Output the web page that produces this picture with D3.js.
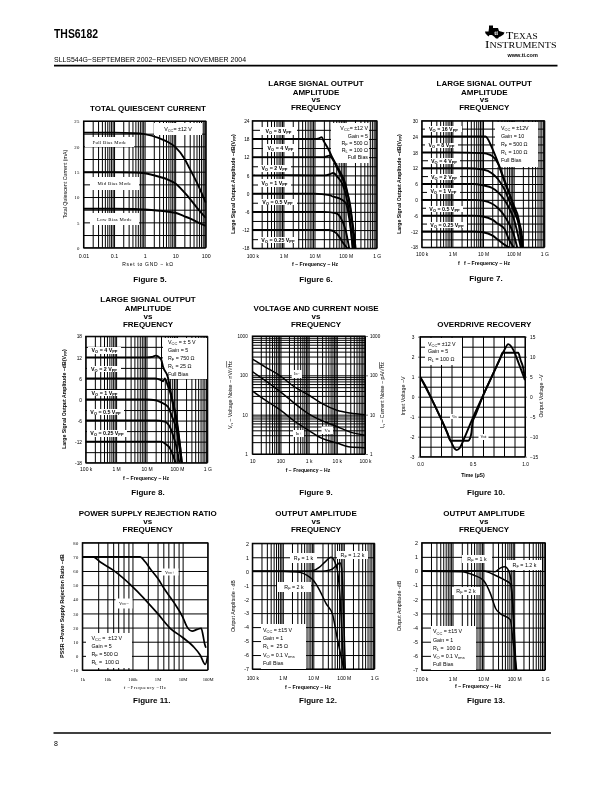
<!DOCTYPE html>
<html><head><meta charset="utf-8">
<script src="https://cdn.jsdelivr.net/npm/d3@7"></script>
<style>
html,body{margin:0;padding:0;background:#fff}
svg{display:block;filter:blur(0.3px)}
text{font-family:"Liberation Sans",Arial,sans-serif;fill:#000}
</style></head><body><svg id="page" width="612" height="792"></svg>
<script>
// ---------- Figure 5 ----------
const fig5Full=[[0.01,22.7],[0.1,22.7],[0.5,22.6],[1,22.4],[3,21.6],[6,20.8],[10,19.9],[20,17.6],[30,15.6],[60,12],[100,8.9]];
const fig5Mid=[[0.01,14.9],[0.1,14.9],[0.5,14.85],[1,14.7],[3,14],[6,13.4],[10,12.7],[20,10.9],[30,9.7],[60,7.4],[100,5.9]];
const fig5Low=[[0.01,7.7],[0.1,7.7],[0.5,7.65],[1,7.55],[3,7.3],[6,7.1],[10,6.9],[20,6.2],[30,5.8],[60,4.9],[100,4.3]];
// ---------- Figure 6 ----------
const fig6V8=[[1e5,18],[1e6,18],[1e7,18],[1.4e7,18.2],[1.7e7,18.6],[2e7,17.2],[3e7,14],[3.7e7,12],[6e7,8],[1e8,3],[1.45e8,-5.6],[1.8e8,-12],[2.1e8,-18]];
const fig6V4=[[1e5,12],[1e6,12],[1e7,12],[2e7,12],[3e7,12.5],[4e7,11],[5e7,9],[1e8,2],[1.5e8,-6],[1.9e8,-18]];
const fig6V2=[[1e5,6],[1e6,6.1],[1e7,6],[2e7,6],[3e7,6.3],[4e7,6.8],[5.5e7,5.5],[8e7,3],[1e8,0],[1.3e8,-6],[1.7e8,-18]];
const fig6V1=[[1e5,0],[1e6,0],[1e7,0],[3e7,-0.5],[4e7,-1],[6e7,-1.5],[1e8,-3],[1.3e8,-8],[1.7e8,-18]];
const fig6V05=[[1e5,-6],[1e6,-6],[1e7,-6],[2e7,-6],[5e7,-6.5],[7e7,-8],[1e8,-12],[1.3e8,-18]];
const fig6V025=[[1e5,-12],[1e6,-12],[1e7,-12],[3e7,-12],[5e7,-13],[6e7,-14],[8e7,-16],[1.15e8,-18]];
// ---------- Figure 7 ----------
const fig7V16=[[1e5,24],[1e6,24],[1e7,24],[1.2e7,24],[2e7,19.5],[3e7,14.5],[5e7,7.5],[8.5e7,0],[1.2e8,-6],[1.8e8,-12],[2e8,-18]];
const fig7V8=[[1e5,18],[1e6,18],[1e7,17.7],[1.7e7,17],[2e7,16.6],[3e7,14],[5e7,7],[1e8,-2],[1.5e8,-8],[1.9e8,-18]];
const fig7V4=[[1e5,12],[3e6,12],[1e7,11.5],[2e7,10],[3e7,8],[5e7,4],[7e7,0],[1e8,-4],[1.5e8,-10],[1.8e8,-18]];
const fig7V2=[[1e5,6],[5e6,6],[1e7,5.5],[2e7,4.5],[3e7,3],[5e7,0],[7e7,-3],[1e8,-7],[1.3e8,-12],[1.7e8,-18]];
const fig7V1=[[1e5,0],[5e6,0],[1e7,-0.3],[2e7,-1.5],[3e7,-3],[5e7,-6],[7e7,-9],[1e8,-13],[1.3e8,-18]];
const fig7V05=[[1e5,-6],[5e6,-6],[1e7,-6.3],[2e7,-7.5],[3e7,-9],[5e7,-11],[7e7,-15],[1e8,-18]];
const fig7V025=[[1e5,-12],[5e6,-12],[1e7,-12.3],[2e7,-13.5],[3e7,-15],[5e7,-17],[7e7,-18]];
// ---------- Figure 8 ----------
const fig8V4=[[1e5,12],[1e6,12],[1e7,12],[1.5e7,12.1],[2e7,12.5],[3e7,11.5],[3.5e7,9.3],[5e7,6.5],[7.5e7,-1.6],[1e8,-7],[1.3e8,-14],[1.45e8,-18]];
const fig8V2=[[1e5,6],[1e6,6],[2e7,6],[3e7,5.5],[3.5e7,5.2],[4e7,6],[5e7,4],[7e7,0],[1e8,-6],[1.3e8,-14],[1.45e8,-18]];
const fig8V1=[[1e5,0],[1e6,0],[1e7,0],[2e7,-0.2],[3e7,-0.8],[5e7,-2],[7e7,-5],[1e8,-9],[1.4e8,-18]];
const fig8V05=[[1e5,-6],[1e6,-6],[2e7,-6],[4e7,-6.3],[6e7,-8],[8e7,-11],[1e8,-14],[1.2e8,-18]];
const fig8V025=[[1e5,-12],[1e6,-12],[3e7,-12],[4e7,-12.5],[6e7,-14],[7.5e7,-16],[9e7,-18]];
// ---------- Figure 9 ----------
const fig9In=[[10,260],[30,160],[100,96],[300,52],[1e3,31.6],[3e3,19],[1e4,13],[3e4,11],[1e5,10]];
const fig9Vn=[[10,124],[30,72],[100,38],[300,20],[1e3,10.5],[3e3,7],[1e4,5],[3e4,3.6],[1e5,3]];
const fig9Ip=[[10,40],[30,23],[100,13],[300,7],[1e3,4],[3e3,2.5],[1e4,1.9],[3e4,1.5],[1e5,1.45]];
// ---------- Figure 10 ----------
const fig10In=[[0,1],[0.05,0.55],[0.1,0],[0.15,-0.55],[0.2,-1.1],[0.25,-1.7],[0.3,-2.3],[0.33,-2.6],[0.35,-2.67],[0.38,-2.55],[0.42,-2.1],[0.5,-1.1],[0.6,0.05],[0.71,1.3],[0.8,2.3],[0.84,2.63],[0.89,2.33],[0.94,1.67],[1,0.83]];
const fig10Out=[[0,5],[0.1,0],[0.2,-5.5],[0.26,-9],[0.29,-11],[0.35,-11],[0.46,-11],[0.475,-10.5],[0.49,-9],[0.5,-6.5],[0.53,-4.5],[0.6,0.2],[0.71,6.5],[0.77,10],[0.785,11],[0.85,11],[0.935,11],[0.96,9],[0.98,7.5],[1,4.5]];
// ---------- Figure 11 ----------
const fig11Minus=[[1e3,70],[2.75e3,70],[5e3,66.5],[1.7e4,60.6],[1e5,49],[1e6,30],[3.2e6,19.5],[1e7,13],[2.7e7,6.5],[5e7,0.6],[8e7,-6],[1e8,0]];
const fig11Plus=[[1e3,70],[2e5,70],[3.2e5,66.5],[5e5,61.8],[1e6,55],[2e6,46.5],[4.4e6,38],[1e7,27.6],[1.5e7,20.5],[2.4e7,17.5],[3.8e7,18.7],[5.5e7,19.5],[6.5e7,14.6],[7.5e7,8.7],[8.5e7,5.7]];
const fig11GridX=[1e3,4.3e3,1e4,1.7e4,2.7e4,4.4e4,6.9e4,1e5,4.1e5,1e6,1.7e6,2.7e6,4.4e6,6.9e6,1e7,1e8];
// ---------- Figure 12 ----------
const fig12R1=[[1e5,0],[1e6,0],[7e6,0],[1e7,0.05],[1.6e7,0.3],[2.4e7,0.65],[3.8e7,1],[5e7,0.7],[6.5e7,-0.27],[7.5e7,-1.8],[8.5e7,-4],[1e8,-7]];
const fig12R12=[[1e5,0],[1e6,0],[2e7,0],[3.8e7,0.1],[6e7,0.45],[7.5e7,0.6],[8.5e7,0.2],[9.5e7,-2],[1.05e8,-5],[1.12e8,-7]];
const fig12R2=[[1e5,0],[1e6,0],[2e6,-0.03],[3.9e6,-0.1],[6.3e6,-0.3],[1e7,-0.65],[1.6e7,-1.35],[2.6e7,-2.3],[4.3e7,-3.1],[5.8e7,-4.55],[7.6e7,-5.8],[1e8,-7]];
// ---------- Figure 13 ----------
const fig13R1=[[1e5,0],[1e6,0],[5e6,0],[1e7,0],[2.4e7,-0.05],[3.5e7,0.2],[5e7,0.3],[6.5e7,0.05],[8e7,-0.75],[9e7,-2.4],[1.1e8,-7]];
const fig13R12=[[1e5,0],[1e6,0],[1e7,0],[2.4e7,-0.3],[5e7,-0.65],[7.5e7,-0.9],[9e7,-2.4],[1.15e8,-7]];
const fig13R2=[[1e5,-0.02],[2e6,-0.05],[5e6,-0.3],[1e7,-0.65],[1.7e7,-1.6],[2.5e7,-2.65],[3.5e7,-3],[7.5e7,-3.45],[9e7,-4.8],[1.2e8,-7]];
// ---------- Tick labels ----------
const fig5XTicks=[0.01,0.1,1,10,100];
const fig5XLabels=["0.01","0.1","1","10","100"];
const fig5YTicks=[0,5,10,15,20,25];
const freqTicks=[1e5,1e6,1e7,1e8,1e9];
const freqLabels=["100 k","1 M","10 M","100 M","1 G"];
const fig6YTicks=[-18,-12,-6,0,6,12,18,24];
const fig7YTicks=[-18,-12,-6,0,6,12,18,24,30];
const fig8YTicks=[-18,-12,-6,0,6,12,18];
const fig9XTicks=[10,100,1e3,1e4,1e5];
const fig9XLabels=["10","100","1 k","10 k","100 k"];
const fig9YTicks=[1,10,100,1000];
const fig9YLabels=["1","10","100","1000"];
const fig10XTicks=[0,0.5,1];
const fig10XLabels=["0.0","0.5","1.0"];
const fig10LeftTicks=[-3,-2,-1,0,1,2,3];
const fig10RightTicks=[-15,-10,-5,0,5,10,15];
const fig11XTicks=[1e3,1e4,1e5,1e6,1e7,1e8];
const fig11XLabels=["1k","10k","100k","1M","10M","100M"];
const fig11YTicks=[-10,0,10,20,30,40,50,60,70,80];
const fig12YTicks=[-7,-6,-5,-4,-3,-2,-1,0,1,2];

const SANS='"Liberation Sans",Arial,sans-serif', SERIF='"Liberation Serif","Times New Roman",serif';
const svg=d3.select("#page");

// rich text: V{O} subscript, [Hz] overline
function rich(sel,str,size){
  const re=/\{([^}]*)\}|\[([^\]]*)\]|([^{\[]+)/g; let m, sub=false;
  while((m=re.exec(str))){
    if(m[1]!==undefined){
      sel.append("tspan").attr("dy",size*0.2).attr("font-size",size*0.75).text(m[1]); sub=true;
    } else if(m[2]!==undefined){
      const t=sel.append("tspan").style("text-decoration","overline").text(m[2]);
      if(sub){t.attr("dy",-size*0.2);sub=false;}
    } else {
      const t=sel.append("tspan").text(m[3]);
      if(sub){t.attr("dy",-size*0.2);sub=false;}
    }
  }
}
function txt(x,y,str,o={}){
  const s=o.size||6;
  const t=svg.append("text").attr("x",x).attr("y",y).attr("font-size",s)
    .attr("text-anchor",o.anchor||"middle")
    .style("font-family",o.family||SANS).style("font-weight",o.weight||"normal")
    .style("white-space","pre");
  if(o.spacing) t.style("letter-spacing",o.spacing+"px");
  if(o.fill) t.style("fill",o.fill);
  if(o.rot) t.attr("transform",`rotate(${o.rot} ${x} ${y})`);
  if(o.len) t.attr("textLength",o.len).attr("lengthAdjust","spacingAndGlyphs");
  rich(t,str,s);
  return t;
}
function boldLines(cx,ys,lines,size){lines.forEach((l,i)=>txt(cx,ys[i],l,{size:size||8,weight:"bold"}));}
function logGrid(lo,hi){
  const out=[];
  for(let e=Math.round(Math.log10(lo));e<=Math.round(Math.log10(hi));e++)
    for(let k=1;k<=9;k++){const v=k*Math.pow(10,e); if(v>=lo*0.999&&v<=hi*1.001) out.push(v);}
  return out;
}
function stepGrid(lo,hi,st){return d3.range(0,Math.round((hi-lo)/st)+1).map(i=>lo+i*st);}

let clipId=0;
function panel(o){
  const r=o.rect;
  const x=(o.xLog?d3.scaleLog():d3.scaleLinear()).domain(o.xDom).range([r[0],r[2]]);
  const y=(o.yLog?d3.scaleLog():d3.scaleLinear()).domain(o.yDom).range([r[3],r[1]]);
  const h=r[3]-r[1], w=r[2]-r[0];
  const gw=o.gridWidth||1, gc="#000";
  const gx=svg.append("g").attr("transform",`translate(0,${r[3]})`)
    .call(d3.axisBottom(x).tickValues(o.xGrid).tickSize(-h).tickFormat(""));
  const gy=svg.append("g").attr("transform",`translate(${r[0]},0)`)
    .call(d3.axisLeft(y).tickValues(o.yGrid).tickSize(-w).tickFormat(""));
  [gx,gy].forEach(g=>{g.select(".domain").remove();g.selectAll("line").attr("stroke",gc).attr("stroke-width",gw);});
  svg.append("rect").attr("x",r[0]).attr("y",r[1]).attr("width",w).attr("height",h)
    .attr("fill","none").attr("stroke","#000").attr("stroke-width",1.1);
  (o.notes||[]).forEach(n=>{
    const b=n.box;
    svg.append("rect").attr("x",b[0]).attr("y",b[1]).attr("width",b[2]-b[0]).attr("height",b[3]-b[1]).attr("fill","#fff");
  });
  const id="clip"+(clipId++);
  svg.append("clipPath").attr("id",id).append("rect").attr("x",r[0]).attr("y",r[1]-2).attr("width",w+1).attr("height",h+3);
  (o.series||[]).forEach(s=>{
    const sc=s.scaleY||y;
    const line=d3.line().x(d=>x(d[0])).y(d=>sc(d[1])).curve(d3.curveMonotoneX);
    svg.append("path").attr("d",line(s.data)).attr("fill","none").attr("stroke","#000")
      .attr("stroke-width",o.lineWidth||1.9).attr("stroke-linejoin","round").attr("clip-path",`url(#${id})`);
  });
  (o.notes||[]).forEach(n=>{
    const b=n.box, s=n.size||5.3, lh=n.lh||(s*1.45), ls=n.lines;
    const a=n.anchor||"middle";
    const tx=a==="middle"?(b[0]+b[2])/2:(a==="start"?b[0]+(n.pad==null?3:n.pad):b[2]-(n.pad==null?2:n.pad));
    const y0=(b[1]+b[3])/2-(ls.length-1)*lh/2+s*0.35;
    ls.forEach((l,i)=>txt(tx,y0+i*lh,l,{size:s,anchor:a,family:n.family,weight:n.weight,spacing:n.spacing}));
  });
  const tx=o.xt, ty=o.yt;
  const ax=svg.append("g").attr("transform",`translate(0,${tx.y})`)
    .call(d3.axisBottom(x).tickValues(tx.ticks).tickSize(0).tickPadding(0).tickFormat((d,i)=>tx.labels[i]));
  ax.select(".domain").remove();
  ax.selectAll("text").attr("y",0).attr("dy",0).attr("font-size",tx.size||5.5).style("font-family",tx.family||SANS).style("letter-spacing",(tx.spacing||0)+"px");
  const ay=svg.append("g").attr("transform",`translate(${ty.x},0)`)
    .call(d3.axisLeft(y).tickValues(ty.ticks).tickSize(0).tickPadding(0).tickFormat((d,i)=>ty.labels[i]));
  ay.select(".domain").remove();
  ay.selectAll("text").attr("x",0).attr("dy","0.35em").attr("font-size",ty.size||5).style("font-family",ty.family||SANS).style("letter-spacing",(ty.spacing||0)+"px");
  return {x,y};
}
function labelsFor(a){return a.map(String);}

// ---------- Page furniture ----------
txt(54,37.5,"THS6182",{size:12,weight:"bold",anchor:"start",len:44});
txt(54,62,"SLLS544G−SEPTEMBER 2002−REVISED NOVEMBER 2004",{size:6.6,anchor:"start",len:192});
svg.append("line").attr("x1",54).attr("x2",557.5).attr("y1",65.6).attr("y2",65.6).attr("stroke","#000").attr("stroke-width",1.6);
svg.append("line").attr("x1",53.5).attr("x2",551).attr("y1",733).attr("y2",733).attr("stroke","#000").attr("stroke-width",1.6);
txt(54,745.5,"8",{size:7,anchor:"start"});
svg.append("path").attr("d","M489 25.5 l4 0 l0 2.5 l5 0 l1 3 l5.5 1.5 l-1 2 l-3 2 l-1.5 0.5 l-1 1.5 l-2 0 l-2 -2 l-2 -1.5 l-2.5 0 l-1 1.5 l-3 -3 l-0.5 -2 l3.5 0 l0.5 -3.5 z").attr("fill","#000");
txt(496,34.5,"ti",{size:6,weight:"bold",anchor:"middle",family:SERIF,fill:"#fff"});
{
  const t1=svg.append("text").attr("x",505.7).attr("y",39).style("font-family",SERIF).attr("font-size",10).attr("textLength",32).attr("lengthAdjust","spacingAndGlyphs");
  t1.append("tspan").text("T"); t1.append("tspan").attr("font-size",7.6).text("EXAS");
  const t2=svg.append("text").attr("x",485).attr("y",48.3).style("font-family",SERIF).attr("font-size",10).attr("textLength",71.5).attr("lengthAdjust","spacingAndGlyphs");
  t2.append("tspan").text("I"); t2.append("tspan").attr("font-size",7.6).text("NSTRUMENTS");
}
txt(522.7,56.7,"www.ti.com",{size:5.5,weight:"bold"});

function vo(str,box){return {box,lines:[str],weight:"bold",size:5.3};}

// ---------- Fig 5 ----------
txt(148,111,"TOTAL QUIESCENT CURRENT",{size:8,weight:"bold"});
panel({rect:[83.5,121,205.7,247.7],xLog:true,xDom:[0.01,100],yDom:[0,25],
  xGrid:logGrid(0.01,100),yGrid:stepGrid(0,25,2.5),
  series:[{data:fig5Full},{data:fig5Mid},{data:fig5Low}],
  notes:[{box:[154,123,202,135],lines:["V{CC}= ±12 V"],size:5.3},
    {box:[85,137,134,147],lines:["Full Bias Mode"],family:SERIF,size:4.8,spacing:0.3},
    {box:[90,177,139,190],lines:["Mid Bias Mode"],family:SERIF,size:4.8,spacing:0.3},
    {box:[90,213,139,225],lines:["Low Bias Mode"],family:SERIF,size:4.8,spacing:0.3}],
  xt:{y:258,ticks:fig5XTicks,labels:fig5XLabels,size:5.3},
  yt:{x:80,ticks:fig5YTicks,labels:labelsFor(fig5YTicks),family:SERIF,size:4.8,spacing:0.5}});
txt(148,265.5,"Rset to GND − kΩ",{size:5,spacing:0.7});
txt(66.7,184,"Total Quiescent Current (mA)",{size:5.3,rot:-90});
txt(150,282,"Figure 5.",{size:8,weight:"bold"});

// ---------- Fig 6 ----------
boldLines(316,[86.3,94.5,102.3,110.3],["LARGE SIGNAL OUTPUT","AMPLITUDE","vs","FREQUENCY"]);
panel({rect:[252.3,120.7,376.7,248.3],xLog:true,xDom:[1e5,1e9],yDom:[-18,24],
  xGrid:logGrid(1e5,1e9),yGrid:stepGrid(-18,24,3),
  series:[fig6V8,fig6V4,fig6V2,fig6V1,fig6V05,fig6V025].map(d=>({data:d})),
  notes:[vo("V{O} = 8 V{PP}",[260,127,297,135]),vo("V{O} = 4 V{PP}",[263,144,298,152]),vo("V{O} = 2 V{PP}",[258,165,291,172]),
    vo("V{O} = 1 V{PP}",[258,179,291,187]),vo("V{O} = 0.5 V{PP}",[258,199,297,205]),vo("V{O} = 0.25 V{PP}",[258,237,298,243]),
    {box:[331,123,369,163],anchor:"end",size:5.3,lh:7.3,pad:1,lines:["V{CC}= ±12 V","Gain = 5","R{F} = 500 Ω","R{L} = 100 Ω","Full Bias"]}],
  xt:{y:257.5,ticks:freqTicks,labels:freqLabels,size:5},
  yt:{x:249.5,ticks:fig6YTicks,labels:labelsFor(fig6YTicks),size:4.8}});
txt(315,265.5,"f − Frequency − Hz",{size:5.2,weight:"bold"});
txt(234.5,184,"Large Signal Output Amplitude −dB(V{PP})",{size:5.2,rot:-90,weight:"bold"});
txt(316,281.5,"Figure 6.",{size:8,weight:"bold"});

// ---------- Fig 7 ----------
boldLines(484.3,[86.3,94.5,102.3,110.3],["LARGE SIGNAL OUTPUT","AMPLITUDE","vs","FREQUENCY"]);
panel({rect:[421.7,120.7,544.3,247.3],xLog:true,xDom:[1e5,1e9],yDom:[-18,30],
  xGrid:logGrid(1e5,1e9),yGrid:stepGrid(-18,30,3),
  series:[fig7V16,fig7V8,fig7V4,fig7V2,fig7V1,fig7V05,fig7V025].map(d=>({data:d})),
  notes:[vo("V{O} = 16 V{PP}",[425,126,462,132]),vo("V{O} = 8 V{PP}",[425,143,458,148]),vo("V{O} = 4 V{PP}",[428,158,460,164]),
    vo("V{O} = 2 V{PP}",[428,174,460,180]),vo("V{O} = 1 V{PP}",[427,188,460,194]),vo("V{O} = 0.5 V{PP}",[426,206,463,212]),vo("V{O} = 0.25 V{PP}",[427,222,467,228]),
    {box:[495,122,538,167],anchor:"start",pad:6,size:5.3,lh:8,lines:["V{CC} = ±12V","Gain = 10","R{F} = 500 Ω","R{L} = 100 Ω","Full Bias"]}],
  xt:{y:256,ticks:freqTicks,labels:freqLabels,size:5},
  yt:{x:418,ticks:fig7YTicks,labels:labelsFor(fig7YTicks),size:4.8}});
txt(484,265,"f   f − Frequency − Hz",{size:5.2,weight:"bold"});
txt(400.7,184,"Large Signal Output Amplitude −dB(V{PP})",{size:5.2,rot:-90,weight:"bold"});
txt(486,281,"Figure 7.",{size:8,weight:"bold"});

// ---------- Fig 8 ----------
boldLines(148,[302,310.5,318.5,326.5],["LARGE SIGNAL OUTPUT","AMPLITUDE","vs","FREQUENCY"]);
panel({rect:[85.7,336.3,207.3,462.7],xLog:true,xDom:[1e5,1e9],yDom:[-18,18],
  xGrid:logGrid(1e5,1e9),yGrid:stepGrid(-18,18,3),
  series:[fig8V4,fig8V2,fig8V1,fig8V05,fig8V025].map(d=>({data:d})),
  notes:[vo("V{O} = 4 V{PP}",[88,347,121,354]),vo("V{O} = 2 V{PP}",[87,366,121,372]),vo("V{O} = 1 V{PP}",[88,390,121,396]),
    vo("V{O} = 0.5 V{PP}",[87,409,124,415]),vo("V{O} = 0.25 V{PP}",[87,430,127,437]),
    {box:[163,338,207,379],anchor:"start",pad:5,size:5.3,lh:8,lines:["V{CC} = ± 5 V","Gain = 5","R{F} = 750 Ω","R{L} = 25 Ω","Full Bias"]}],
  xt:{y:471,ticks:freqTicks,labels:freqLabels,size:5},
  yt:{x:82,ticks:fig8YTicks,labels:labelsFor(fig8YTicks),size:4.8}});
txt(146,479.5,"f − Frequency − Hz",{size:5.2,weight:"bold"});
txt(65.5,399,"Large Signal Output Amplitude −dB(V{PP})",{size:5.2,rot:-90,weight:"bold"});
txt(148,495,"Figure 8.",{size:8,weight:"bold"});

// ---------- Fig 9 ----------
boldLines(316,[310.7,318.7,326.5],["VOLTAGE AND CURRENT NOISE","vs","FREQUENCY"]);
const p9=panel({rect:[252.3,336,365,454],xLog:true,yLog:true,xDom:[10,1e5],yDom:[1,1000],
  xGrid:logGrid(10,1e5),yGrid:logGrid(1,1000),lineWidth:1.5,
  series:[{data:fig9In},{data:fig9Vn},{data:fig9Ip}],
  notes:[{box:[291.7,370,302,378],lines:["In−"],family:SERIF,size:4},
    {box:[293,430,304,437],lines:["In+"],family:SERIF,size:4},
    {box:[321.5,426.5,333,434],lines:["Vn"],family:SERIF,size:4.5}],
  xt:{y:462.5,ticks:fig9XTicks,labels:fig9XLabels,size:5},
  yt:{x:247.7,ticks:fig9YTicks,labels:fig9YLabels,size:4.6}});
{
  const ar=svg.append("g").attr("transform","translate(370,0)")
    .call(d3.axisRight(p9.y).tickValues(fig9YTicks).tickSize(0).tickPadding(0).tickFormat((d,i)=>fig9YLabels[i]));
  ar.select(".domain").remove();
  ar.selectAll("text").attr("x",0).attr("dy","0.35em").attr("font-size",4.6);
  svg.append("g").attr("transform","translate(365,0)").call(d3.axisRight(p9.y).tickValues(fig9YTicks).tickSize(3).tickFormat("")).call(g=>g.select(".domain").remove()).selectAll("line").attr("stroke","#222").attr("stroke-width",0.6);
}
txt(308,472,"f − Frequency − Hz",{size:5,weight:"bold"});
txt(231.5,395,"V{n} − Voltage Noise − nV/√[Hz]",{size:5.3,rot:-90});
txt(384,395,"I{n} − Current Noise − pA/√[Hz]",{size:5.3,rot:-90});
txt(316,495,"Figure 9.",{size:8,weight:"bold"});

// ---------- Fig 10 ----------
txt(484.3,326.5,"OVERDRIVE RECOVERY",{size:8,weight:"bold"});
const yOutScale=d3.scaleLinear().domain([-15,15]).range([456.7,336.7]);
const p10=panel({rect:[420,336.7,525,456.7],xDom:[0,1],yDom:[-3,3],
  xGrid:stepGrid(0,1,0.1),yGrid:stepGrid(-3,3,0.5),lineWidth:1.9,
  series:[{data:fig10In},{data:fig10Out,scaleY:yOutScale}],
  notes:[{box:[425,338,462,365],anchor:"start",pad:3,size:5.3,lh:7.3,lines:["V{CC}= ±12 V","Gain = 5","R{L} = 100 Ω"]},
    {box:[450,414,458.5,419],lines:["Vin"],family:SERIF,size:3.2},
    {box:[478.5,434,488.5,440],lines:["Vout"],family:SERIF,size:3.2}],
  xt:{y:466,ticks:fig10XTicks,labels:fig10XLabels,size:4.8},
  yt:{x:414.5,ticks:fig10LeftTicks,labels:labelsFor(fig10LeftTicks),size:4.8}});
{
  const ar=svg.append("g").attr("transform","translate(530,0)")
    .call(d3.axisRight(yOutScale).tickValues(fig10RightTicks).tickSize(0).tickPadding(0));
  ar.select(".domain").remove();
  ar.selectAll("text").attr("x",0).attr("dy","0.35em").attr("font-size",4.8);
  svg.append("g").attr("transform","translate(525,0)").call(d3.axisRight(yOutScale).tickValues(fig10RightTicks).tickSize(2).tickFormat("")).call(g=>g.select(".domain").remove()).selectAll("line").attr("stroke","#222").attr("stroke-width",0.6);
  svg.append("g").attr("transform","translate(420,0)").call(d3.axisLeft(p10.y).tickValues(fig10LeftTicks).tickSize(2).tickFormat("")).call(g=>g.select(".domain").remove()).selectAll("line").attr("stroke","#222").attr("stroke-width",0.6);
}
txt(473,477,"Time (μS)",{size:5.2,weight:"bold"});
txt(404.5,396,"Input Voltage −V",{size:5.3,rot:-90});
txt(543,396,"Output Voltage −V",{size:5.3,rot:-90});
txt(486,495,"Figure 10.",{size:8,weight:"bold"});

// ---------- Fig 11 ----------
boldLines(147.7,[516.3,524.3,532],["POWER SUPPLY REJECTION RATIO","vs","FREQUENCY"]);
panel({rect:[82.3,542.7,207.7,670],xLog:true,xDom:[1e3,1e8],yDom:[-10,80],
  xGrid:fig11GridX,yGrid:stepGrid(-10,80,10),lineWidth:1.7,
  series:[{data:fig11Minus},{data:fig11Plus}],
  notes:[{box:[86,633,132,668],anchor:"start",pad:5.5,size:5.3,lh:8,lines:["V{CC} =  ±12 V","Gain = 5","R{F} = 500 Ω","R{L} =  100 Ω"]},
    {box:[161.5,568.5,178.5,575.5],lines:["Vcc+"],family:SERIF,size:4.6},
    {box:[115.5,598.5,132.5,608.5],lines:["Vcc−"],family:SERIF,size:4.6}],
  xt:{y:680.5,ticks:fig11XTicks,labels:fig11XLabels,size:4.6,family:SERIF},
  yt:{x:79,ticks:fig11YTicks,labels:fig11YTicks.map(String),size:4.6,family:SERIF,spacing:0.6}});
txt(145,689,"f −Frequency −Hz",{size:4.8,family:SERIF,spacing:0.45});
txt(64,606,"PSSR −Power Supply Rejection Ratio −dB",{size:5.2,rot:-90,weight:"bold"});
txt(151.7,703,"Figure 11.",{size:8,weight:"bold"});

// ---------- Fig 12 ----------
boldLines(316,[516.3,524.3,532],["OUTPUT AMPLITUDE","vs","FREQUENCY"]);
panel({rect:[252.3,543.3,374.3,669],xLog:true,xDom:[1e5,1e9],yDom:[-7,2],
  xGrid:logGrid(1e5,1e9),yGrid:stepGrid(-7,2,1),lineWidth:1.5,
  series:[{data:fig12R1},{data:fig12R12},{data:fig12R2}],
  notes:[{box:[290,553,317,563],lines:["R{F} = 1 k"],size:5.3},
    {box:[337,551,368,559],lines:["R{F} = 1.2 k"],size:5.3},
    {box:[277,582,311,592],lines:["R{F} = 2 k"],size:5.3},
    {box:[261,624,306,669],anchor:"start",pad:2,size:5.3,lh:8.2,lines:["V{CC} = ±15 V","Gain = 1","R{L} =  25 Ω","V{O} = 0.1 V{rms}","Full Bias"]}],
  xt:{y:679.5,ticks:freqTicks,labels:freqLabels,size:5},
  yt:{x:249,ticks:fig12YTicks,labels:labelsFor(fig12YTicks),size:5.3}});
txt(308,688.5,"f − Frequency − Hz",{size:5.2,weight:"bold"});
txt(235,606,"Output Amplitude - dB",{size:5.3,rot:-90});
txt(318,703,"Figure 12.",{size:8,weight:"bold"});

// ---------- Fig 13 ----------
boldLines(484,[516.3,524.3,532],["OUTPUT AMPLITUDE","vs","FREQUENCY"]);
panel({rect:[421.7,542.7,545,670],xLog:true,xDom:[1e5,1e9],yDom:[-7,2],
  xGrid:logGrid(1e5,1e9),yGrid:stepGrid(-7,2,1),lineWidth:1.5,
  series:[{data:fig13R1},{data:fig13R12},{data:fig13R2}],
  notes:[{box:[462,555,492,563],lines:["R{F} = 1 k"],size:5.3},
    {box:[507,560,542,570],lines:["R{F} = 1.2 k"],size:5.3},
    {box:[452,587,480,595],lines:["R{F} = 2 k"],size:5.3},
    {box:[431,626,476,670],anchor:"start",pad:2,size:5.3,lh:8.2,lines:["V{CC} = ±15 V","Gain = 1","R{L} =  100 Ω","V{O} = 0.1 V{rms}","Full Bias"]}],
  xt:{y:680.5,ticks:freqTicks,labels:freqLabels,size:5},
  yt:{x:418,ticks:fig12YTicks,labels:labelsFor(fig12YTicks),size:5.3}});
txt(478,687.5,"f − Frequency − Hz",{size:5.2,weight:"bold"});
txt(400.7,606,"Output Amplitude -dB",{size:5.3,rot:-90});
txt(486,703,"Figure 13.",{size:8,weight:"bold"});
</script></body></html>
